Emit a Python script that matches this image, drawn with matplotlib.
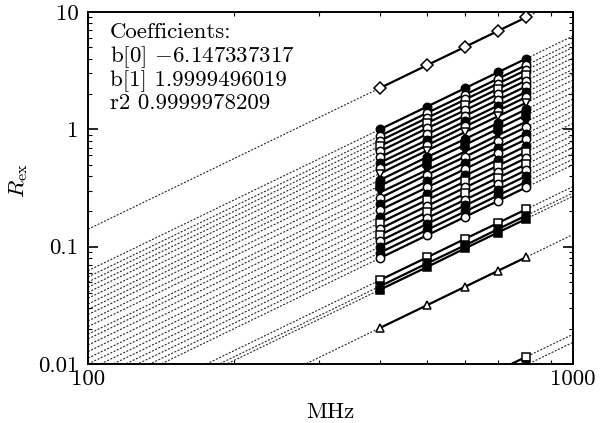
import numpy as np
import matplotlib
matplotlib.use("Agg")
import matplotlib.pyplot as plt
from matplotlib.ticker import FixedLocator, FixedFormatter, LogLocator, NullFormatter

plt.rcParams['font.family'] = ['cmr10', 'DejaVu Serif']
plt.rcParams['mathtext.fontset'] = 'cm'
plt.rcParams['axes.unicode_minus'] = False
plt.rcParams['axes.formatter.use_mathtext'] = True

# ---- data ----
freqs = [400, 500, 600, 700, 800]

diamond_open = [2.25, 3.52, 5.06, 6.89, 9.00]
c01_filled_circle = [1.00, 1.56, 2.25, 3.06, 4.00]
c02_open_circle = [0.88, 1.38, 1.98, 2.70, 3.52]
c03_open_circle = [0.80, 1.25, 1.80, 2.45, 3.20]
c04_open_square = [0.72, 1.13, 1.62, 2.21, 2.88]
c05_open_circle = [0.65, 1.02, 1.46, 1.99, 2.60]
c06_open_circle = [0.58, 0.91, 1.31, 1.78, 2.32]
c07_filled_circle = [0.52, 0.81, 1.17, 1.59, 2.08]
c08_open_circle = [0.47, 0.73, 1.06, 1.44, 1.88]
c09_open_tri_down = [0.42, 0.66, 0.95, 1.29, 1.68]
c10_filled_circle = [0.37, 0.58, 0.83, 1.13, 1.48]
c11_filled_square = [0.33, 0.52, 0.74, 1.01, 1.32]
c12_filled_tri_down = [0.29, 0.45, 0.65, 0.89, 1.16]
c13_open_circle = [0.26, 0.41, 0.585, 0.80, 1.04]
c14_filled_circle = [0.23, 0.36, 0.52, 0.70, 0.92]
c15_open_circle = [0.205, 0.32, 0.46, 0.63, 0.82]
c16_filled_circle = [0.18, 0.28, 0.405, 0.55, 0.72]
c17_open_square = [0.16, 0.25, 0.36, 0.49, 0.64]
c18_open_circle = [0.142, 0.222, 0.32, 0.435, 0.568]
c19_open_square = [0.126, 0.197, 0.284, 0.386, 0.504]
c20_open_circle = [0.112, 0.175, 0.252, 0.343, 0.448]
c21_filled_circle = [0.100, 0.156, 0.225, 0.306, 0.400]
c22_filled_circle = [0.089, 0.139, 0.200, 0.273, 0.356]
c23_open_circle = [0.080, 0.125, 0.180, 0.245, 0.320]
s1_open_square = [0.052, 0.081, 0.117, 0.159, 0.208]
s2_filled_tri_down = [0.046, 0.072, 0.103, 0.141, 0.184]
s3_filled_square = [0.043, 0.067, 0.097, 0.132, 0.172]
t1_open_triangle = [0.0203, 0.0317, 0.0457, 0.0622, 0.0812]
b1_open_square = [0.0029, 0.0045, 0.0065, 0.0088, 0.0115]
b2_filled_tri_down = [0.00245, 0.0038, 0.0055, 0.0075, 0.0098]

series = [
    (diamond_open, 'D', 'white'),
    (c01_filled_circle, 'o', 'black'),
    (c02_open_circle, 'o', 'white'),
    (c03_open_circle, 'o', 'white'),
    (c04_open_square, 's', 'white'),
    (c05_open_circle, 'o', 'white'),
    (c06_open_circle, 'o', 'white'),
    (c07_filled_circle, 'o', 'black'),
    (c08_open_circle, 'o', 'white'),
    (c09_open_tri_down, 'v', 'white'),
    (c10_filled_circle, 'o', 'black'),
    (c11_filled_square, 's', 'black'),
    (c12_filled_tri_down, 'v', 'black'),
    (c13_open_circle, 'o', 'white'),
    (c14_filled_circle, 'o', 'black'),
    (c15_open_circle, 'o', 'white'),
    (c16_filled_circle, 'o', 'black'),
    (c17_open_square, 's', 'white'),
    (c18_open_circle, 'o', 'white'),
    (c19_open_square, 's', 'white'),
    (c20_open_circle, 'o', 'white'),
    (c21_filled_circle, 'o', 'black'),
    (c22_filled_circle, 'o', 'black'),
    (c23_open_circle, 'o', 'white'),
    (s1_open_square, 's', 'white'),
    (s2_filled_tri_down, 'v', 'black'),
    (s3_filled_square, 's', 'black'),
    (t1_open_triangle, '^', 'white'),
    (b1_open_square, 's', 'white'),
    (b2_filled_tri_down, 'v', 'black'),
]

coef_lines = ["Coefficients:", "b[0] $-$6.147337317", "b[1] 1.9999496019", "r2 0.9999978209"]
xlim = (100, 1000)
ylim = (0.01, 10)
xtick_vals = [100, 1000]
xtick_labels = ["100", "1000"]
ytick_vals = [0.01, 0.1, 1, 10]
ytick_labels = ["0.01", "0.1", "1", "10"]

FS = 16.5

# ---- figure ----
fig = plt.figure(figsize=(6.05, 4.23), dpi=100)
ax = fig.add_axes([88/605, 59/423, 485/605, 352/423])
ax.set_xscale('log')
ax.set_yscale('log')

fx = np.array([xlim[0], xlim[1]], dtype=float)
for vals, mk, fc in series:
    lf = np.log10(np.array(freqs, dtype=float))
    lv = np.log10(np.array(vals, dtype=float))
    slope, icpt = np.polyfit(lf, lv, 1)
    ax.plot(fx, 10 ** (icpt + slope * np.log10(fx)), color='0.15',
            linestyle=(0, (1.8, 1.4)), lw=0.8, zorder=1)

for vals, mk, fc in series:
    ax.plot(freqs, vals, color='black', lw=1.6, marker=mk, ms=6.0,
            mfc=fc, mec='black', mew=1.1, zorder=3, clip_on=True)

ax.set_xlim(*xlim)
ax.set_ylim(*ylim)

ax.xaxis.set_major_locator(FixedLocator(xtick_vals))
ax.xaxis.set_major_formatter(FixedFormatter(xtick_labels))
ax.xaxis.set_minor_locator(LogLocator(base=10, subs=np.arange(2, 10)))
ax.xaxis.set_minor_formatter(NullFormatter())
ax.yaxis.set_major_locator(FixedLocator(ytick_vals))
ax.yaxis.set_major_formatter(FixedFormatter(ytick_labels))
ax.yaxis.set_minor_locator(LogLocator(base=10, subs=np.arange(2, 10)))
ax.yaxis.set_minor_formatter(NullFormatter())

ax.tick_params(which='both', direction='in', top=True, right=True)
ax.tick_params(which='major', length=7, width=1.2, labelsize=FS)
ax.tick_params(which='minor', length=3, width=0.8)
ax.tick_params(axis='x', which='major', pad=4)
ax.tick_params(axis='y', which='major', pad=7)
for sp in ax.spines.values():
    sp.set_linewidth(1.4)

ax.set_xlabel("MHz", fontsize=FS)
ax.xaxis.set_label_coords(0.5, -0.108)
ax.set_ylabel(r"$R_{\mathrm{ex}}$", fontsize=FS)
ax.yaxis.set_label_coords(-0.12, 0.52)

baselines = [38, 62, 86, 109]
for txt, b in zip(coef_lines, baselines):
    fig.text(110/605, 1 - b/423, txt, fontsize=FS, va='baseline', ha='left')

fig.savefig("out.png", dpi=100)
